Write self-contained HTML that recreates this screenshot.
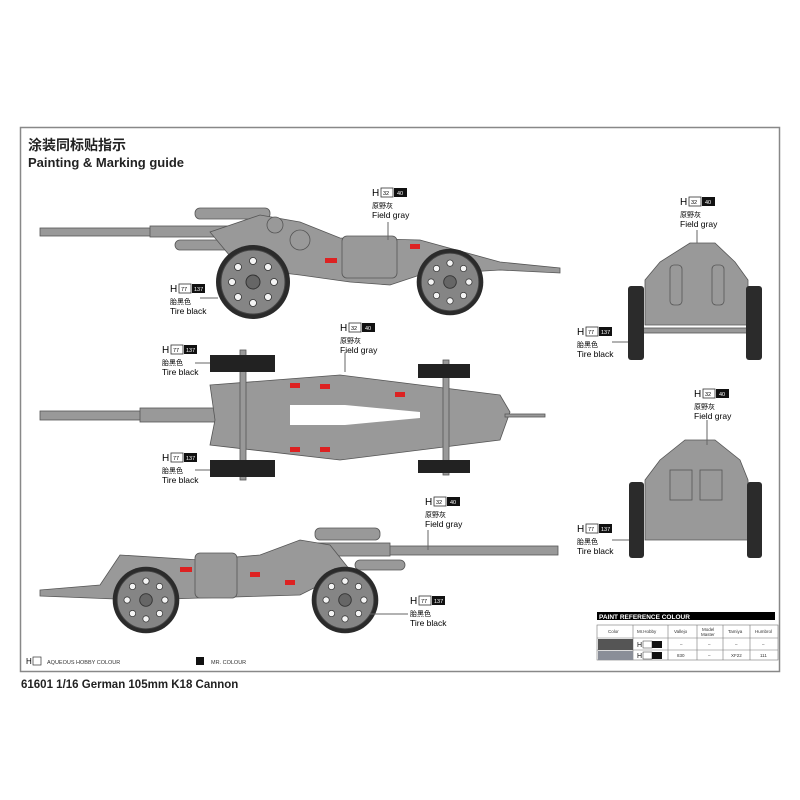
<!DOCTYPE html>
<html><head><meta charset="utf-8"><style>
body{margin:0;background:#fff;}
svg{display:block}
text{font-family:"Liberation Sans","Noto Sans CJK SC",sans-serif;}
</style></head><body>
<svg width="800" height="800" viewBox="0 0 800 800" xmlns="http://www.w3.org/2000/svg">
<defs>
<g id="wheelS">
  <circle r="37" fill="#2b2b2b"/>
  <circle r="32" fill="#858585" stroke="#444" stroke-width="1"/>
  <circle r="7" fill="#666" stroke="#333"/>
  <g fill="#f4f4f4" stroke="#333" stroke-width="0.8">
    <circle cx="0" cy="-21" r="3.5"/><circle cx="15" cy="-15" r="3.5"/><circle cx="21" cy="0" r="3.5"/><circle cx="15" cy="15" r="3.5"/>
    <circle cx="0" cy="21" r="3.5"/><circle cx="-15" cy="15" r="3.5"/><circle cx="-21" cy="0" r="3.5"/><circle cx="-15" cy="-15" r="3.5"/>
  </g>
</g>
<g id="lblG">
  <text x="0" y="0" font-size="10">H</text>
  <rect x="9" y="-8" width="12" height="9" fill="#fff" stroke="#333" stroke-width="0.8"/>
  <text x="11" y="-1" font-size="5.5">32</text>
  <rect x="22" y="-8" width="13" height="9" fill="#111"/>
  <text x="25" y="-1" font-size="5.5" fill="#fff">40</text>
  <text x="0" y="12" font-size="7">原野灰</text>
  <text x="0" y="22" font-size="8.5">Field gray</text>
</g>
<g id="lblT">
  <text x="0" y="0" font-size="10">H</text>
  <rect x="9" y="-8" width="12" height="9" fill="#fff" stroke="#333" stroke-width="0.8"/>
  <text x="11" y="-1" font-size="5.5">77</text>
  <rect x="22" y="-8" width="13" height="9" fill="#111"/>
  <text x="24" y="-1" font-size="5.5" fill="#fff">137</text>
  <text x="0" y="12" font-size="7">胎黑色</text>
  <text x="0" y="22" font-size="8.5">Tire black</text>
</g>
</defs>
<rect x="20.5" y="127.5" width="759" height="544" fill="#fff" stroke="#888" stroke-width="1.5"/>
<text x="28" y="150" font-size="14" font-weight="bold" fill="#222">涂装同标贴指示</text>
<text x="28" y="167" font-size="13" font-weight="bold" fill="#222">Painting &amp; Marking guide</text>

<!-- top side view -->
<g fill="#999" stroke="#555" stroke-width="0.8">
  <rect x="40" y="228" width="140" height="8"/>
  <rect x="150" y="226" width="100" height="11"/>
  <rect x="195" y="208" width="75" height="11" rx="5"/>
  <rect x="175" y="240" width="70" height="10" rx="5"/>
  <polygon points="210,232 260,215 300,222 340,238 420,240 500,262 560,268 560,273 500,270 420,275 390,285 350,282 300,275 240,268"/>
  <rect x="342" y="236" width="55" height="42" rx="5"/>
  <circle cx="300" cy="240" r="10"/>
  <circle cx="275" cy="225" r="8"/>
</g>
<g fill="#d22"><rect x="265" y="258" width="12" height="5"/><rect x="325" y="258" width="12" height="5"/><rect x="410" y="244" width="10" height="5"/></g>
<use href="#wheelS" x="253" y="282"/>
<use href="#wheelS" transform="translate(450,282) scale(0.9)"/>
<use href="#lblG" x="372" y="196"/>
<line x1="388" y1="222" x2="388" y2="240" stroke="#666"/>
<use href="#lblT" x="170" y="292"/>
<line x1="200" y1="298" x2="218" y2="298" stroke="#666"/>

<!-- top view -->
<g fill="#999" stroke="#555" stroke-width="0.8">
  <rect x="40" y="411" width="140" height="9"/>
  <rect x="140" y="408" width="160" height="14"/>
  <polygon points="210,385 340,375 420,385 500,395 510,412 500,440 420,450 340,460 210,445 215,420"/>
  <rect x="505" y="414" width="40" height="3"/>
  <rect x="240" y="350" width="6" height="130"/>
  <rect x="443" y="360" width="6" height="115"/>
</g>
<polygon points="290,405 345,405 420,412 420,418 345,425 290,425" fill="#fff"/>
<g fill="#222"><rect x="210" y="355" width="65" height="17"/><rect x="210" y="460" width="65" height="17"/><rect x="418" y="364" width="52" height="14"/><rect x="418" y="460" width="52" height="13"/></g>
<g fill="#d22"><rect x="290" y="383" width="10" height="5"/><rect x="320" y="384" width="10" height="5"/><rect x="395" y="392" width="10" height="5"/><rect x="290" y="447" width="10" height="5"/><rect x="320" y="447" width="10" height="5"/></g>
<use href="#lblG" x="340" y="331"/>
<line x1="345" y1="352" x2="345" y2="372" stroke="#666"/>
<use href="#lblT" x="162" y="353"/>
<line x1="195" y1="363" x2="210" y2="363" stroke="#666"/>
<use href="#lblT" x="162" y="461"/>
<line x1="195" y1="470" x2="210" y2="470" stroke="#666"/>

<!-- bottom side view -->
<g fill="#999" stroke="#555" stroke-width="0.8">
  <rect x="330" y="546" width="228" height="9"/>
  <rect x="300" y="543" width="90" height="13"/>
  <rect x="315" y="528" width="65" height="12" rx="5"/>
  <rect x="355" y="560" width="50" height="10" rx="5"/>
  <polygon points="40,590 100,585 120,555 200,560 260,555 300,540 330,545 350,570 300,595 200,598 140,600 40,596"/>
  <rect x="195" y="553" width="42" height="45" rx="5"/>
</g>
<g fill="#d22"><rect x="180" y="567" width="12" height="5"/><rect x="250" y="572" width="10" height="5"/><rect x="285" y="580" width="10" height="5"/></g>
<use href="#wheelS" transform="translate(146,600) scale(0.9)"/>
<use href="#wheelS" transform="translate(345,600) scale(0.9)"/>
<use href="#lblG" x="425" y="505"/>
<line x1="428" y1="530" x2="428" y2="550" stroke="#666"/>
<use href="#lblT" x="410" y="604"/>
<line x1="370" y1="614" x2="408" y2="614" stroke="#666"/>

<!-- front view -->
<g fill="#999" stroke="#555" stroke-width="0.8">
  <polygon points="645,280 660,262 690,243 715,243 735,262 748,280 748,325 645,325"/>
  <rect x="670" y="265" width="12" height="40" rx="4"/>
  <rect x="712" y="265" width="12" height="40" rx="4"/>
  <rect x="640" y="328" width="112" height="5"/>
</g>
<g fill="#2b2b2b"><rect x="628" y="286" width="16" height="74" rx="3"/><rect x="746" y="286" width="16" height="74" rx="3"/></g>
<use href="#lblG" x="680" y="205"/>
<line x1="697" y1="230" x2="697" y2="243" stroke="#666"/>
<use href="#lblT" x="577" y="335"/>
<line x1="612" y1="342" x2="628" y2="342" stroke="#666"/>

<!-- rear view -->
<g fill="#999" stroke="#555" stroke-width="0.8">
  <polygon points="645,480 660,460 685,440 715,440 740,460 748,480 748,540 645,540"/>
  <rect x="670" y="470" width="22" height="30"/>
  <rect x="700" y="470" width="22" height="30"/>
</g>
<g fill="#2b2b2b"><rect x="629" y="482" width="15" height="76" rx="3"/><rect x="747" y="482" width="15" height="76" rx="3"/></g>
<use href="#lblG" x="694" y="397"/>
<line x1="707" y1="420" x2="707" y2="445" stroke="#666"/>
<use href="#lblT" x="577" y="532"/>
<line x1="612" y1="540" x2="629" y2="540" stroke="#666"/>

<!-- paint table -->
<rect x="597" y="612" width="178" height="8" fill="#000"/>
<text x="599" y="619" font-size="6.5" font-weight="bold" fill="#fff">PAINT  REFERENCE COLOUR</text>
<g stroke="#777" stroke-width="0.6" fill="none">
  <rect x="597" y="625" width="181" height="35"/>
  <line x1="597" y1="638" x2="778" y2="638"/><line x1="597" y1="650" x2="778" y2="650"/>
  <line x1="633" y1="625" x2="633" y2="660"/><line x1="668" y1="625" x2="668" y2="660"/><line x1="697" y1="625" x2="697" y2="660"/><line x1="723" y1="625" x2="723" y2="660"/><line x1="750" y1="625" x2="750" y2="660"/>
</g>
<rect x="598" y="639" width="35" height="11" fill="#555"/>
<rect x="598" y="651" width="35" height="9" fill="#8a8e98"/>
<g font-size="4.5" fill="#333">
<text x="608" y="633">Color</text><text x="637" y="633">Mr.Hobby</text><text x="674" y="633">Vallejo</text><text x="702" y="631">Model</text><text x="701" y="636">Master</text><text x="728" y="633">Tamiya</text><text x="755" y="633">Humbrol</text>
<text x="680" y="646">–</text><text x="708" y="646">–</text><text x="735" y="646">–</text><text x="762" y="646">–</text>
<text x="677" y="657">830</text><text x="708" y="657">–</text><text x="731" y="657">XF22</text><text x="760" y="657">111</text>
</g>
<g font-size="7" fill="#111"><text x="637" y="647">H</text><text x="637" y="658">H</text></g>
<rect x="643" y="641" width="9" height="7" fill="#fff" stroke="#333" stroke-width="0.5"/><rect x="652" y="641" width="10" height="7" fill="#111"/>
<rect x="643" y="652" width="9" height="7" fill="#fff" stroke="#333" stroke-width="0.5"/><rect x="652" y="652" width="10" height="7" fill="#111"/>

<!-- legend -->
<text x="26" y="664" font-size="8">H</text>
<rect x="33" y="657" width="8" height="8" fill="#fff" stroke="#333" stroke-width="0.7"/>
<text x="47" y="664" font-size="5.5" fill="#333">AQUEOUS HOBBY COLOUR</text>
<rect x="196" y="657" width="8" height="8" fill="#111"/>
<text x="211" y="664" font-size="5.5" fill="#333">MR. COLOUR</text>
<text x="21" y="688" font-size="11.5" font-weight="bold" fill="#222">61601 1/16 German 105mm K18 Cannon</text>
</svg>
</body></html>
